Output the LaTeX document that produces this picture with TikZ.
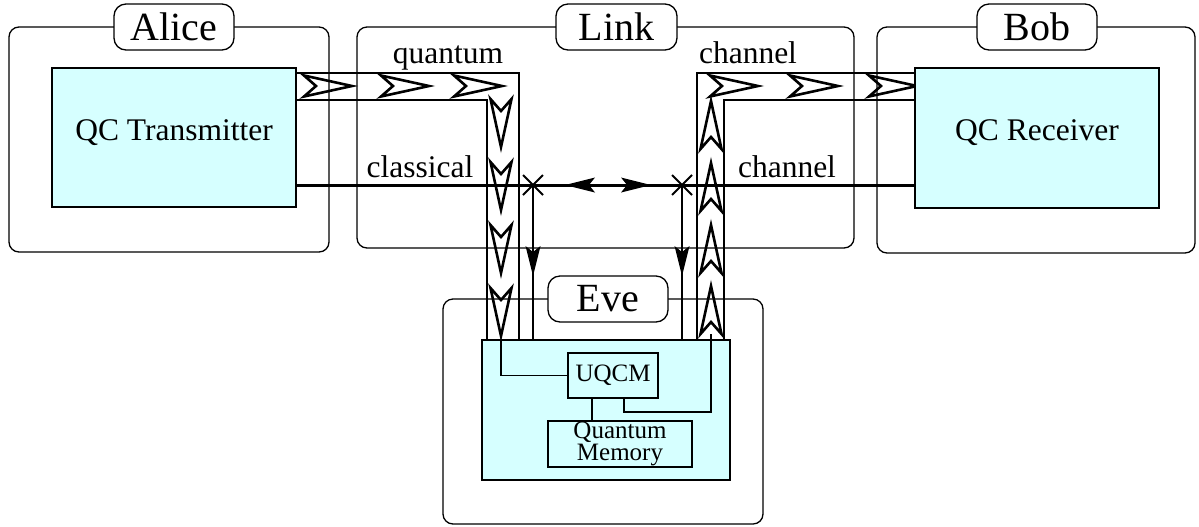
\documentclass[tikz,border=0pt]{standalone}
\usepackage{fontspec}
\setmainfont{Liberation Serif}
\usetikzlibrary{positioning, calc}
\definecolor{boxcyan}{HTML}{D6FFFF}

\begin{document}
\begin{tikzpicture}[
    x=0.5pt, y=-0.5pt,
    wire/.style={line width=0.6pt},
    partybox/.style={draw, line width=0.65pt, rounded corners=5pt, inner sep=0pt},
    namebox/.style={draw, fill=white, line width=0.65pt, rounded corners=6pt, inner sep=0pt,
        minimum width=60pt, minimum height=23pt, font=\fontsize{20}{24}\selectfont},
    devbox/.style={draw, fill=boxcyan, line width=0.7pt, inner sep=0pt},
    chanlabel/.style={anchor=base, inner sep=0pt, font=\fontsize{15.75}{18}\selectfont},
    qhead/.pic={\draw[line width=1.3pt] (-26,-10.5) -- (22,0) -- (-26,10.5) -- (-14,0) -- cycle;},
    chead/.pic={\fill (15,0) -- (-15,-7.5) -- (-9,0) -- (-15,7.5) -- cycle;}
]
\useasboundingbox (0,0) rectangle (1199,526);

% Outer boxes
\node[partybox, minimum width=160pt, minimum height=112.5pt] (alice) at (169,139.5) {};
\node[partybox, minimum width=248.5pt, minimum height=110.5pt] (link) at (605.5,137.5) {};
\node[partybox, minimum width=159pt, minimum height=113pt] (bob) at (1036,140) {};
\node[partybox, minimum width=160pt, minimum height=112.5pt] (eve) at (603,411.5) {};

% Quantum channel, Alice side
\draw[wire] (296,73) -- (519,73) -- (519,340);
\draw[wire] (296,100) -- (487,100) -- (487,340);
% Quantum channel, Bob side
\draw[wire] (915,73) -- (697,73) -- (697,340);
\draw[wire] (915,100) -- (724,100) -- (724,340);

\foreach \xx in {330,407,480} \pic at (\xx,86) {qhead};
\foreach \yy in {125,188,251,314} \pic[rotate=-90] at (501,\yy) {qhead};
\foreach \yy in {123,185,247,308} \pic[rotate=90] at (711,\yy) {qhead};
\foreach \xx in {736,816,895} \pic at (\xx,86) {qhead};

% Classical channel
\draw[line width=1.5pt] (296,185) -- (915,185);
\pic[rotate=180] at (580,185) {chead};
\pic at (636,185) {chead};
\foreach \xx in {533,682} {
    \draw[line width=1pt] (\xx-10,175) -- (\xx+10,195) (\xx-10,195) -- (\xx+10,175);
    \draw[wire] (\xx,185) -- (\xx,340);
    \pic[rotate=-90] at (\xx,261) {chead};
}

% Channel labels
\node[chanlabel] (qlabel) at (448,63) {quantum};
\node[chanlabel] (qlabelb) at (748,63) {channel};
\node[chanlabel] (clabel) at (420,177) {classical};
\node[chanlabel] (clabelb) at (787,177) {channel};

% Name tags
\node[namebox] (alicetag) at (174,27) {Alice};
\node[namebox, minimum width=60.5pt] (linktag) at (616.5,27) {Link};
\node[namebox] (bobtag) at (1037,27) {Bob};
\node[namebox] (evetag) at (608,299) {Eve};

% Devices
\node[devbox, minimum width=122pt, minimum height=69.5pt] (tx) at (174,137.5) {};
\node[font=\fontsize{15.75}{18}\selectfont] (txtext) at ([yshift=2.5pt]tx.center) {QC Transmitter};
\node[devbox, minimum width=122pt, minimum height=70pt] (rx) at (1037,138) {};
\node[font=\fontsize{15.75}{18}\selectfont] (rxtext) at ([yshift=2.5pt]rx.center) {QC Receiver};
\node[devbox, minimum width=124pt, minimum height=70pt] (evebox) at (606,410) {};
\node[devbox, line width=0.6pt, minimum width=45pt, minimum height=22.5pt,
    font=\fontsize{12.5}{14}\selectfont] (uqcm) at (613,375.5) {UQCM};
\node[devbox, line width=0.6pt, minimum width=72pt, minimum height=23pt, align=center,
    font=\fontsize{12.5}{10}\selectfont] (qmem) at (620,444) {Quantum\\Memory};

% Eve's wiring
\draw[wire] (501,340) |- (uqcm.west);
\draw[wire] ([xshift=5.5pt]uqcm.south) |- (711,412) -- (711,334);
\draw[wire] ([xshift=-10.5pt]uqcm.south) -- ([xshift=-10.5pt]uqcm.south |- qmem.north);
\end{tikzpicture}
\end{document}
